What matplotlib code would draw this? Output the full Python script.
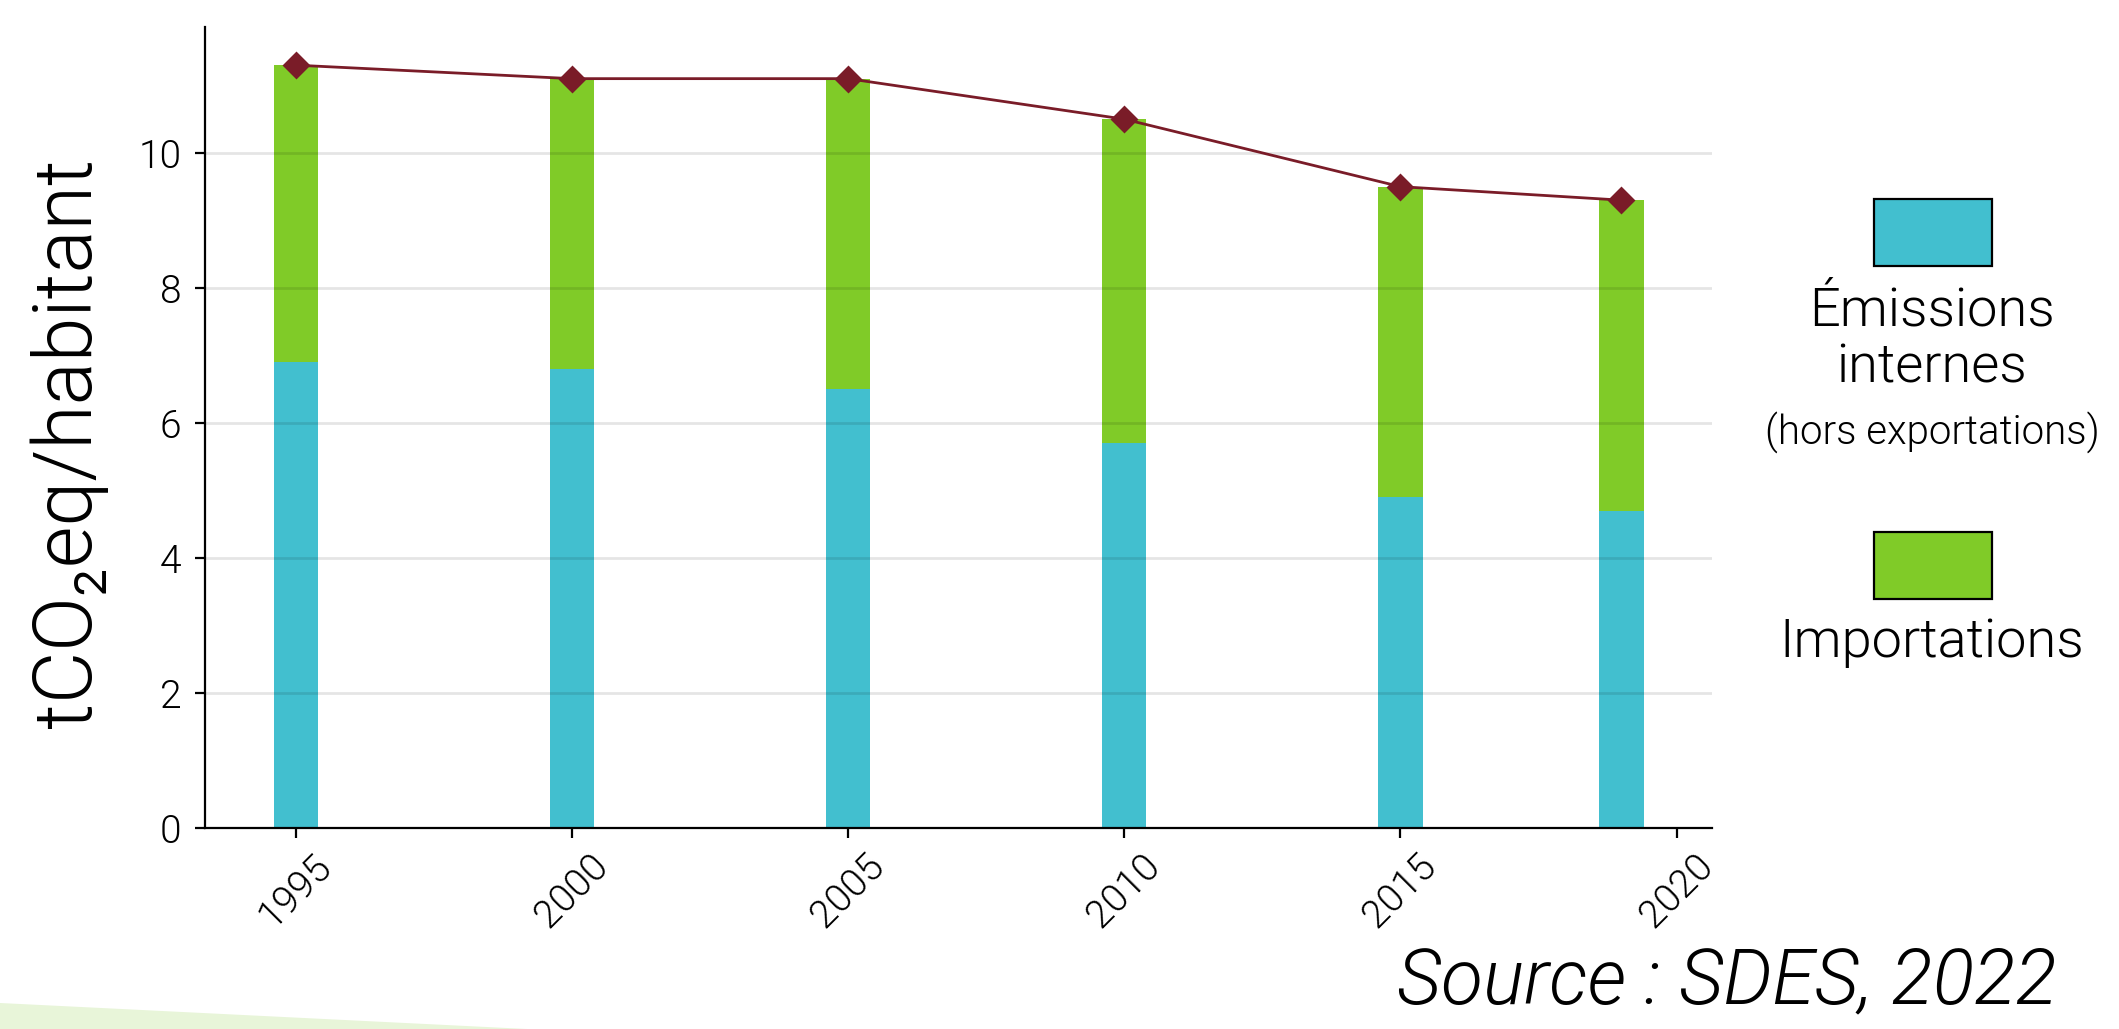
"""
Empreinte carbone par habitant (emissions internes + importations), 1995-2019.
"""

import matplotlib

matplotlib.use("Agg")
import matplotlib.pyplot as plt
from matplotlib.patches import Polygon, Rectangle

# data (tCO2eq / habitant)
years = [1995, 2000, 2005, 2010, 2015, 2019]
internes = [6.9, 6.8, 6.5, 5.7, 4.9, 4.7]
importations = [4.4, 4.3, 4.6, 4.8, 4.6, 4.6]
totals = [a + b for a, b in zip(internes, importations)]
xticks = [1995, 2000, 2005, 2010, 2015, 2020]
yticks = [0, 2, 4, 6, 8, 10]

BLUE = "#42bfcf"
GREEN = "#80cb28"
WINE = "#7a1c28"

plt.rcParams["font.family"] = ["Roboto", "DejaVu Sans"]
plt.rcParams["font.weight"] = 300  # Roboto Light ("light" alone resolves to Thin)
plt.rcParams["axes.labelweight"] = 300

W, H = 2119, 1029
fig = plt.figure(figsize=(W / 200, H / 200), dpi=200)
ax = fig.add_axes([205 / W, 1 - 828 / H, (1712 - 205) / W, (828 - 27) / H])

ax.bar(years, internes, width=0.8, color=BLUE, zorder=1)
ax.bar(years, importations, width=0.8, bottom=internes, color=GREEN, zorder=1)
ax.plot(years, totals, color=WINE, lw=1.0, marker="D", ms=6, zorder=3)

ax.set_xticks(xticks)
ax.set_xticklabels([str(y) for y in xticks], rotation=45, fontsize=14)
ax.set_yticks(yticks)
ax.set_yticklabels([str(v) for v in yticks], fontsize=14)
ax.tick_params(axis="y", pad=5)
ax.set_ylabel("tCO₂eq/habitant", fontsize=29, fontweight=300, labelpad=11)
ax.yaxis.label.set_y(0.48)

ax.grid(axis="y", color="black", alpha=0.1, lw=1.0)
ax.set_axisbelow(False)
for side in ("top", "right"):
    ax.spines[side].set_visible(False)
for side in ("left", "bottom"):
    ax.spines[side].set_linewidth(0.8)

# hand-made legend on the right
for top_px, color in ((199, BLUE), (532, GREEN)):
    fig.add_artist(Rectangle((1874 / W, 1 - (top_px + 67) / H), 118 / W, 67 / H,
                             facecolor=color, edgecolor="black", lw=0.8,
                             transform=fig.transFigure))
cx = 1932 / W
fig.text(cx, 1 - 311 / H, "Émissions", ha="center", va="center", fontsize=19.5)
fig.text(cx, 1 - 368 / H, "internes", ha="center", va="center", fontsize=19.5)
fig.text(cx, 1 - 432 / H, "(hors exportations)", ha="center", va="center", fontsize=14.5)
fig.text(cx, 1 - 642 / H, "Importations", ha="center", va="center", fontsize=19.5)

fig.text(2057 / W, 1 - 982 / H, "Source : SDES, 2022", ha="right", va="center",
         fontsize=27.7, style="italic")

# decorative light-green wedge, bottom left
fig.add_artist(Polygon([(0, 0), (0, 1 - 1003 / H), (527 / W, 0)], closed=True,
                       facecolor="#e8f5d9", edgecolor="none", transform=fig.transFigure,
                       zorder=0))

fig.savefig("out.png", dpi=200)
